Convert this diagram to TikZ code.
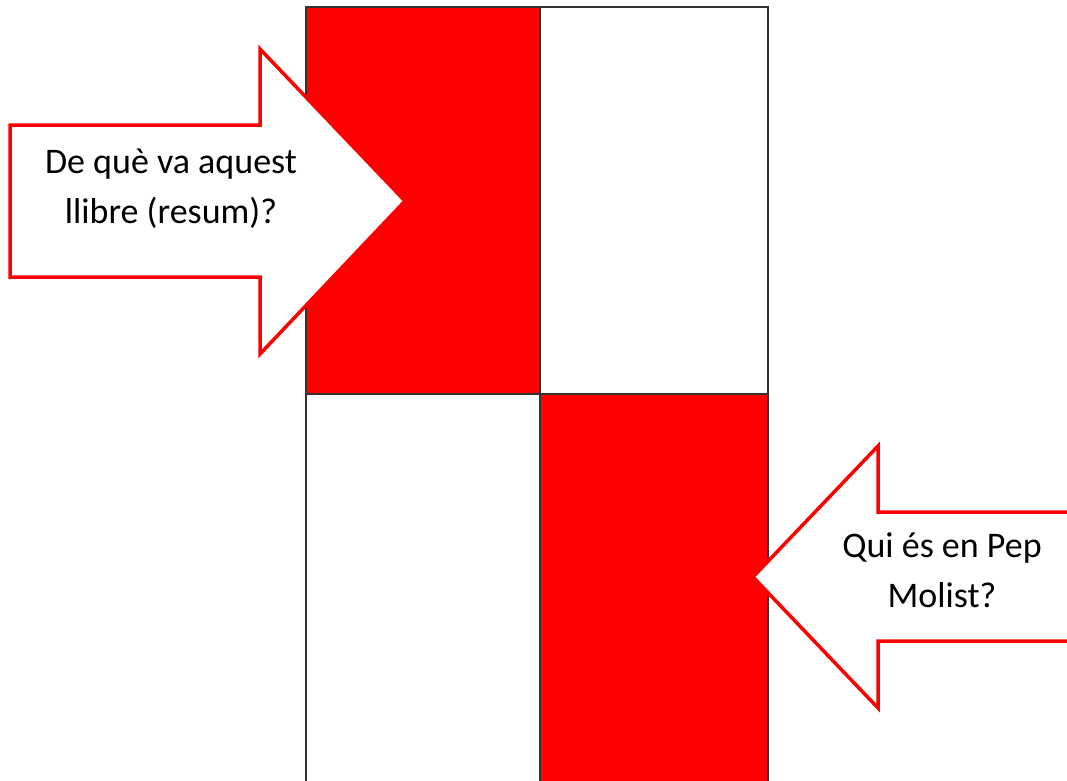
\documentclass[tikz,border=0pt]{standalone}
\usepackage{fontspec}
\setmainfont{Carlito}
\begin{document}
\begin{tikzpicture}[x=1pt,y=-1pt,
  cell/.style={draw=black!80,line width=1.2pt},
  redcell/.style={cell,fill=red},
  bigarrow/.style={draw=red,line width=3.5pt,fill=white,line join=miter,miter limit=10},
  lbl/.style={font=\fontsize{36}{50}\selectfont,align=center,inner sep=0pt}]
\useasboundingbox (0,0) rectangle (1067,780);
% grid
\draw[redcell] (306,7) rectangle (540,394);
\draw[cell] (540,7) rectangle (768,394);
\draw[cell] (306,394) rectangle (540,790);
\draw[redcell] (540,394) rectangle (768,790);
% left arrow
\draw[bigarrow] (10,125) -- (260,125) -- (260,49) -- (405,201) -- (260,354) -- (260,277) -- (10,277) -- cycle;
\node[lbl,anchor=base] (q1) at (171,223) {De què va aquest\\llibre (resum)?};
% right arrow
\draw[bigarrow] (1075,512) -- (878,512) -- (878,446) -- (753,577) -- (878,708) -- (878,641) -- (1075,641) -- cycle;
\node[lbl,anchor=base] (q2) at (942,607) {Qui és en Pep\\Molist?};
\end{tikzpicture}
\end{document}
